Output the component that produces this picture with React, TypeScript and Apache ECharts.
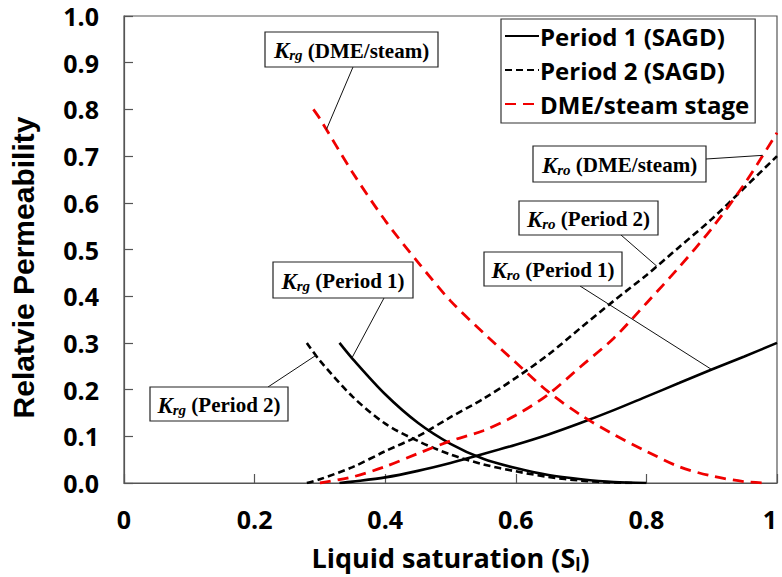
import React, { useEffect, useRef } from "react";
import * as echarts from "echarts";

// Liquid saturation (x) and relative permeability (y)
const krgP1Sl = [0.33, 0.35, 0.4, 0.45, 0.5, 0.55, 0.6, 0.65, 0.7, 0.75, 0.8];
const krgP1 = [0.3, 0.266, 0.19, 0.129, 0.084, 0.052, 0.032, 0.017, 0.008, 0.002, 0];

const kroP1Sl = [0.33, 0.35, 0.4, 0.45, 0.5, 0.55, 0.6, 0.65, 0.7, 0.75, 0.8, 0.85, 0.9, 0.95, 1.0];
const kroP1 = [0, 0.003, 0.012, 0.026, 0.043, 0.062, 0.082, 0.104, 0.129, 0.156, 0.185, 0.214, 0.243, 0.271, 0.3];

const krgP2Sl = [0.28, 0.3, 0.35, 0.4, 0.45, 0.5, 0.55, 0.6, 0.65, 0.7, 0.75, 0.78];
const krgP2 = [0.3, 0.262, 0.185, 0.127, 0.09, 0.061, 0.04, 0.025, 0.013, 0.005, 0.001, 0];

const kroP2Sl = [0.28, 0.3, 0.35, 0.4, 0.45, 0.5, 0.55, 0.6, 0.65, 0.7, 0.75, 0.8, 0.85, 0.9, 0.95, 1.0];
const kroP2 = [0, 0.008, 0.034, 0.068, 0.1, 0.141, 0.18, 0.225, 0.275, 0.333, 0.39, 0.445, 0.505, 0.565, 0.632, 0.7];

const krgDmeSl = [0.29, 0.3, 0.35, 0.4, 0.45, 0.5, 0.55, 0.6, 0.65, 0.7, 0.75, 0.8, 0.85, 0.9, 0.95, 0.98];
const krgDme = [0.8, 0.78, 0.665, 0.562, 0.473, 0.39, 0.322, 0.258, 0.195, 0.145, 0.104, 0.068, 0.035, 0.015, 0.003, 0];

const kroDmeSl = [0.3, 0.35, 0.4, 0.45, 0.5, 0.55, 0.6, 0.65, 0.7, 0.75, 0.8, 0.85, 0.9, 0.95, 1.0];
const kroDme = [0, 0.013, 0.035, 0.063, 0.09, 0.112, 0.145, 0.19, 0.25, 0.31, 0.385, 0.462, 0.545, 0.64, 0.75];

const legendNames = ["Period 1 (SAGD)", "Period 2 (SAGD)", "DME/steam stage"];

const pairs = (xs: number[], ys: number[]) => xs.map((x, i) => [x, ys[i]]);

const curves: Record<string, { xs: number[]; ys: number[] }> = {
  krgP1: { xs: krgP1Sl, ys: krgP1 },
  kroP1: { xs: kroP1Sl, ys: kroP1 },
  krgP2: { xs: krgP2Sl, ys: krgP2 },
  kroP2: { xs: kroP2Sl, ys: kroP2 },
  krgDme: { xs: krgDmeSl, ys: krgDme },
  kroDme: { xs: kroDmeSl, ys: kroDme },
};

function interp(xs: number[], ys: number[], x: number) {
  for (let i = 0; i < xs.length - 1; i++) {
    if (x >= xs[i] && x <= xs[i + 1]) {
      const t = (x - xs[i]) / (xs[i + 1] - xs[i]);
      return ys[i] + t * (ys[i + 1] - ys[i]);
    }
  }
  return ys[ys.length - 1];
}

// annotation boxes: [left, top, width, height], leader start, curve + saturation of the anchor
const annotations = [
  { sub: "rg", rest: " (DME/steam)", box: [265, 32, 173, 35], from: [353, 67], curve: "krgDme", sl: 0.31 },
  { sub: "rg", rest: " (Period 1)", box: [273, 262, 140, 36], from: [384, 298], curve: "krgP1", sl: 0.349 },
  { sub: "rg", rest: " (Period 2)", box: [150, 387, 138, 34], from: [268, 387], curve: "krgP2", sl: 0.294 },
  { sub: "ro", rest: " (DME/steam)", box: [533, 146, 173, 36], from: [706, 159], curve: "kroDme", sl: 0.978 },
  { sub: "ro", rest: " (Period 2)", box: [519, 201, 139, 34], from: [621, 235], curve: "kroP2", sl: 0.816 },
  { sub: "ro", rest: " (Period 1)", box: [484, 252, 138, 34], from: [580, 286], curve: "kroP1", sl: 0.9 },
];

const serif = '"Liberation Serif", "Times New Roman", serif';
const sans = '"Open Sans", Lato, sans-serif';
const arial = '"Liberation Sans", Arial, sans-serif';

export default function App() {
  const ref = useRef<HTMLDivElement>(null);

  useEffect(() => {
    if (!ref.current) return;
    const chart = echarts.init(ref.current, undefined, { renderer: "svg" });

    const solid = { color: "#000", width: 2.6, type: "solid" as const };
    const dashBlack = { color: "#000", width: 2.6, type: [7, 4] as any };
    const dashRed = { color: "#f00000", width: 2.8, type: [11, 7] as any };

    const mk = (name: string, key: string, ls: any) => ({
      name,
      type: "line",
      data: pairs(curves[key].xs, curves[key].ys),
      symbol: "none",
      smooth: 0.3,
      lineStyle: ls,
      itemStyle: { color: ls.color },
      z: 3,
    });

    chart.setOption({
      animation: false,
      backgroundColor: "#fff",
      grid: {
        left: 124,
        right: 5,
        top: 16,
        bottom: 94,
        show: true,
        borderColor: "#555",
        borderWidth: 1.2,
        containLabel: false,
        outerBoundsMode: "none",
      },
      legend: {
        orient: "vertical",
        left: 501,
        top: 19,
        data: legendNames,
        backgroundColor: "#fff",
        borderColor: "#333",
        borderWidth: 1.2,
        padding: [2, 6, 4, 3],
        itemGap: 4,
        itemWidth: 34,
        itemHeight: 14,
        selectedMode: false,
        itemStyle: { opacity: 0 },
        z: 20,
        textStyle: {
          fontFamily: sans,
          fontWeight: "bold",
          fontSize: 24,
          color: "#000",
          padding: [0, 0, 0, -4],
          lineHeight: 30,
        },
      },
      xAxis: {
        type: "value",
        min: 0,
        max: 1,
        interval: 0.2,
        name: "{a|Liquid saturation (S}{b|l}{a|)}",
        nameLocation: "middle",
        nameGap: 58,
        nameTextStyle: {
          rich: {
            a: { fontFamily: sans, fontWeight: "bold", fontSize: 27, color: "#000", lineHeight: 32 },
            b: { fontFamily: sans, fontWeight: "bold", fontSize: 17, color: "#000", verticalAlign: "bottom", lineHeight: 17 },
          },
        },
        axisLine: { lineStyle: { color: "#555", width: 1.2 } },
        axisTick: { inside: true, length: 9, lineStyle: { color: "#555", width: 1.2 } },
        splitLine: { show: false },
        axisLabel: {
          fontFamily: sans,
          fontWeight: "bold",
          fontSize: 25,
          color: "#000",
          margin: 23,
          alignMaxLabel: "right",
          formatter: (v: number) => String(+v.toFixed(1)),
        },
      },
      yAxis: {
        type: "value",
        min: 0,
        max: 1,
        interval: 0.1,
        name: "Relatvie Permeability",
        nameLocation: "middle",
        nameGap: 86,
        nameTextStyle: {
          fontFamily: arial,
          fontWeight: "bold",
          fontSize: 30,
          color: "#000",
          padding: [0, 36, 0, 0],
        },
        axisLine: { lineStyle: { color: "#555", width: 1.2 } },
        axisTick: { inside: true, length: 9, lineStyle: { color: "#555", width: 1.2 } },
        splitLine: { show: false },
        axisLabel: {
          fontFamily: sans,
          fontWeight: "bold",
          fontSize: 25,
          color: "#000",
          margin: 25,
          formatter: (v: number) => v.toFixed(1),
        },
      },
      series: [
        mk(legendNames[0], "krgP1", solid),
        mk(legendNames[0], "kroP1", solid),
        mk(legendNames[1], "krgP2", dashBlack),
        mk(legendNames[1], "kroP2", dashBlack),
        mk(legendNames[2], "krgDme", dashRed),
        mk(legendNames[2], "kroDme", dashRed),
      ],
    });

    const graphics: any[] = [];
    annotations.forEach((a) => {
      const c = curves[a.curve];
      const y = interp(c.xs, c.ys, a.sl);
      const p = chart.convertToPixel({ gridIndex: 0 }, [a.sl, y]) as number[];
      graphics.push({
        type: "line",
        z: 30,
        shape: { x1: a.from[0], y1: a.from[1], x2: p[0], y2: p[1] },
        style: { stroke: "#111", lineWidth: 1 },
      });
      graphics.push({
        type: "rect",
        z: 31,
        shape: { x: a.box[0], y: a.box[1], width: a.box[2], height: a.box[3] },
        style: { fill: "#fff", stroke: "#222", lineWidth: 1.2 },
      });
      graphics.push({
        type: "text",
        z: 32,
        x: a.box[0] + a.box[2] / 2,
        y: a.box[1] + a.box[3] / 2 + 1,
        style: {
          text: `{k|K}{s|${a.sub}}{t|${a.rest}}`,
          align: "center",
          verticalAlign: "middle",
          rich: {
            k: { fontFamily: serif, fontWeight: "bold", fontStyle: "italic", fontSize: 23, fill: "#000", lineHeight: 24 },
            s: { fontFamily: serif, fontWeight: "bold", fontStyle: "italic", fontSize: 15, fill: "#000", verticalAlign: "bottom", lineHeight: 14 },
            t: { fontFamily: serif, fontWeight: "bold", fontSize: 21, fill: "#000", lineHeight: 24 },
          },
        },
      });
    });
    chart.setOption({ graphic: graphics });

    return () => chart.dispose();
  }, []);

  return (
    <div
      ref={ref}
      style={{ position: "fixed", left: 0, top: 0, width: 782, height: 577, background: "#fff" }}
    />
  );
}
